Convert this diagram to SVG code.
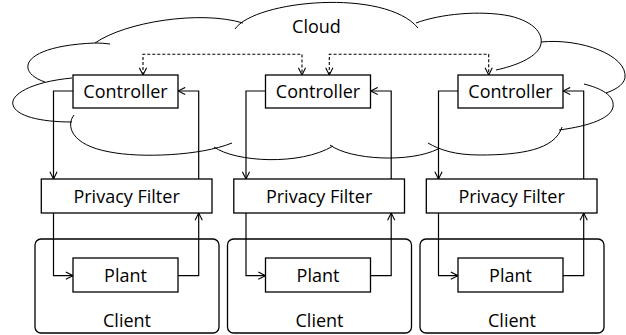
<svg xmlns="http://www.w3.org/2000/svg" width="626" height="335" viewBox="0 0 626 335">
  <defs>
    <style>
      .cloud { fill: none; stroke: #000; stroke-width: 1; }
      .box { fill: #fff; stroke: #000; stroke-width: 1.3; }
      .wire { fill: none; stroke: #000; stroke-width: 1.2; }
      .dash { fill: none; stroke: #000; stroke-width: 1.1; stroke-dasharray: 3 2; }
      .lbl { font-family: "Open Sans", "Noto Sans", sans-serif; font-size: 18px; fill: #000; text-anchor: middle; }
    </style>
    <marker id="open" viewBox="0 0 10 10" refX="9" refY="5" markerWidth="9" markerHeight="9" markerUnits="userSpaceOnUse" orient="auto-start-reverse">
      <polyline points="1,1 9,5 1,9" fill="none" stroke="#000" stroke-width="1.2"/>
    </marker>
  </defs>

  <rect width="626" height="335" fill="#fff"/>

  <!-- cloud outline: one open arc per bump -->
  <g id="cloud">
    <path class="cloud" d="M45 82 C15 72 20 46 95 43 Q103 43 110 44"/>
    <path class="cloud" d="M95 43 C125 22 200 10 243 23"/>
    <path class="cloud" d="M235 29 C255 0 385 -12 418 28"/>
    <path class="cloud" d="M416 23 C440 14 480 10 510 16 C535 22 545 35 540 47 C535 58 515 66 496 70"/>
    <path class="cloud" d="M541 42 C580 38 628 55 625 78 C623 86 614 90 606 93"/>
    <path class="cloud" d="M584 84 C600 88 615 95 613 107 C611 118 590 126 559 130"/>
    <path class="cloud" d="M562 127 C555 150 520 155 480 155 C455 155 440 150 428 143"/>
    <path class="cloud" d="M330 145 C350 160 410 163 438 149"/>
    <path class="cloud" d="M214 147 C235 162 300 166 333 146"/>
    <path class="cloud" d="M74 115 C66 125 70 145 110 152 C140 158 200 156 232 143"/>
    <path class="cloud" d="M72 78 C30 82 10 95 13 105 C16 116 40 122 72 122"/>
    <text class="lbl" x="316.5" y="33">Cloud</text>
  </g>

  <!-- links between the parts -->
  <g id="connectors">
    <path class="dash" d="M143 75 V54.3 H302 V75" marker-start="url(#open)" marker-end="url(#open)"/>
    <path class="dash" d="M329.3 75 V54.3 H488.7 V75" marker-start="url(#open)" marker-end="url(#open)"/>

    <path class="wire" d="M73 91 H53.5 V179" marker-end="url(#open)"/>
    <path class="wire" d="M198.7 179 V91 H178" marker-end="url(#open)"/>
    <path class="wire" d="M53.5 213 V275.7 H73" marker-end="url(#open)"/>
    <path class="wire" d="M178 275.7 H198.7 V213" marker-end="url(#open)"/>

    <path class="wire" d="M265.5 91 H246 V179" marker-end="url(#open)"/>
    <path class="wire" d="M391.2 179 V91 H370.5" marker-end="url(#open)"/>
    <path class="wire" d="M246 213 V275.7 H265.5" marker-end="url(#open)"/>
    <path class="wire" d="M370.5 275.7 H391.2 V213" marker-end="url(#open)"/>

    <path class="wire" d="M458 91 H438.5 V179" marker-end="url(#open)"/>
    <path class="wire" d="M583.7 179 V91 H563" marker-end="url(#open)"/>
    <path class="wire" d="M438.5 213 V275.7 H458" marker-end="url(#open)"/>
    <path class="wire" d="M563 275.7 H583.7 V213" marker-end="url(#open)"/>
  </g>

  <!-- column 1 -->
  <g id="controller1">
    <rect class="box" x="73" y="75" width="105" height="33"/>
    <text class="lbl" x="125.5" y="98">Controller</text>
  </g>
  <g id="filter1">
    <rect class="box" x="41.3" y="179" width="170.7" height="34"/>
    <text class="lbl" x="126.6" y="203">Privacy Filter</text>
  </g>
  <g id="client1">
    <rect class="box" x="35" y="239" width="184" height="94" rx="6" fill="none" style="fill:none"/>
    <text class="lbl" x="127" y="326.5">Client</text>
  </g>
  <g id="plant1">
    <rect class="box" x="73" y="258" width="105" height="34"/>
    <text class="lbl" x="125.5" y="282">Plant</text>
  </g>

  <!-- column 2 -->
  <g id="controller2">
    <rect class="box" x="265.5" y="75" width="105" height="33"/>
    <text class="lbl" x="318" y="98">Controller</text>
  </g>
  <g id="filter2">
    <rect class="box" x="233.8" y="179" width="170.7" height="34"/>
    <text class="lbl" x="319.1" y="203">Privacy Filter</text>
  </g>
  <g id="client2">
    <rect class="box" x="227.5" y="239" width="184" height="94" rx="6" style="fill:none"/>
    <text class="lbl" x="319.5" y="326.5">Client</text>
  </g>
  <g id="plant2">
    <rect class="box" x="265.5" y="258" width="105" height="34"/>
    <text class="lbl" x="318" y="282">Plant</text>
  </g>

  <!-- column 3 -->
  <g id="controller3">
    <rect class="box" x="458" y="75" width="105" height="33"/>
    <text class="lbl" x="510.5" y="98">Controller</text>
  </g>
  <g id="filter3">
    <rect class="box" x="426.3" y="179" width="170.7" height="34"/>
    <text class="lbl" x="511.6" y="203">Privacy Filter</text>
  </g>
  <g id="client3">
    <rect class="box" x="420" y="239" width="184" height="94" rx="6" style="fill:none"/>
    <text class="lbl" x="512" y="326.5">Client</text>
  </g>
  <g id="plant3">
    <rect class="box" x="458" y="258" width="105" height="34"/>
    <text class="lbl" x="510.5" y="282">Plant</text>
  </g>
</svg>
